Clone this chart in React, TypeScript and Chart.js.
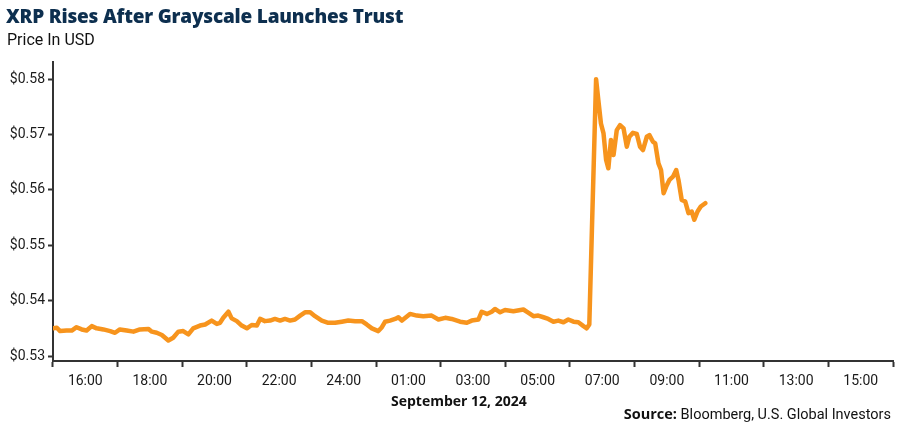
import React, { useEffect, useRef } from "react";
import { Chart, registerables } from "chart.js";

Chart.register(...registerables);

// Axis labels (one per 2-hour band, as printed on the original)
const xLabels = ["16:00", "18:00", "20:00", "22:00", "24:00", "01:00", "03:00", "05:00", "07:00", "09:00", "11:00", "13:00", "15:00"];
const yTicks = [0.53, 0.54, 0.55, 0.56, 0.57, 0.58];

// Hours elapsed since the left edge of the axis (15:00)
const hours = [
  0, 0.12, 0.22, 0.42, 0.58, 0.73, 0.89, 1.04, 1.2, 1.35,
  1.56, 1.77, 1.92, 2.07, 2.28, 2.49, 2.69, 2.95, 3.06, 3.21,
  3.37, 3.57, 3.72, 3.88, 4.03, 4.19, 4.34, 4.55, 4.71, 4.91,
  5.07, 5.17, 5.27, 5.43, 5.53, 5.69, 5.84, 6.0, 6.15, 6.31,
  6.41, 6.56, 6.72, 6.87, 7.03, 7.18, 7.34, 7.49, 7.65, 7.8,
  7.96, 8.11, 8.32, 8.52, 8.73, 8.94, 9.14, 9.35, 9.56, 9.71,
  9.87, 10.07, 10.18, 10.28, 10.43, 10.59, 10.69, 10.8, 11.05, 11.26,
  11.46, 11.72, 11.93, 12.14, 12.34, 12.6, 12.81, 12.96, 13.17, 13.27,
  13.43, 13.58, 13.68, 13.84, 13.99, 14.25, 14.56, 14.72, 14.87, 15.02,
  15.18, 15.33, 15.49, 15.64, 15.8, 15.95, 16.11, 16.26, 16.42, 16.52,
  16.6, 16.68, 16.81, 16.88, 16.96, 17.04, 17.12, 17.19, 17.27, 17.35,
  17.45, 17.55, 17.66, 17.76, 17.84, 17.95, 18.07, 18.17, 18.26, 18.38,
  18.46, 18.57, 18.64, 18.74, 18.82, 18.9, 18.98, 19.08, 19.19, 19.29,
  19.36, 19.46, 19.57, 19.67, 19.77, 19.85, 19.95, 20.05, 20.19,
];

// XRP price in USD
const prices = [
  0.535, 0.5351, 0.5345, 0.5346, 0.5346, 0.5352, 0.5348, 0.5346, 0.5354, 0.535,
  0.5348, 0.5345, 0.5342, 0.5348, 0.5346, 0.5344, 0.5348, 0.5349, 0.5344, 0.5342,
  0.5338, 0.5328, 0.5333, 0.5344, 0.5345, 0.5339, 0.535, 0.5355, 0.5357, 0.5364,
  0.5358, 0.536, 0.5369, 0.538, 0.5368, 0.5363, 0.5355, 0.535, 0.5356, 0.5355,
  0.5367, 0.5363, 0.5364, 0.5367, 0.5364, 0.5367, 0.5364, 0.5366, 0.5373, 0.5379,
  0.5379, 0.5372, 0.5364, 0.536, 0.536, 0.5362, 0.5364, 0.5363, 0.5363, 0.5357,
  0.535, 0.5345, 0.5352, 0.5362, 0.5364, 0.5367, 0.537, 0.5364, 0.5376, 0.5373,
  0.5372, 0.5373, 0.5366, 0.5369, 0.5367, 0.5362, 0.536, 0.5364, 0.5366, 0.538,
  0.5376, 0.538, 0.5385, 0.5379, 0.5383, 0.5381, 0.5384, 0.5378, 0.5372, 0.5373,
  0.537, 0.5367, 0.5362, 0.5364, 0.5361, 0.5366, 0.5362, 0.5361, 0.5354, 0.535,
  0.5357, 0.5527, 0.58, 0.5762, 0.572, 0.5702, 0.5654, 0.5639, 0.569, 0.5663,
  0.5708, 0.5717, 0.5711, 0.5678, 0.5696, 0.5703, 0.5701, 0.5678, 0.5672, 0.5696,
  0.5699, 0.5687, 0.5684, 0.5648, 0.5636, 0.5594, 0.5606, 0.5618, 0.5624, 0.5636,
  0.5618, 0.5582, 0.5579, 0.5558, 0.5561, 0.5546, 0.5561, 0.557, 0.5576,
];

const FONT = "Roboto, 'Liberation Sans', sans-serif";
const BOLD = "'Open Sans', Roboto, sans-serif";
const AXIS = "#333333";

export default function App() {
  const ref = useRef<HTMLCanvasElement | null>(null);

  useEffect(() => {
    if (!ref.current) return;
    const chart = new Chart(ref.current, {
      type: "line",
      data: {
        datasets: [
          {
            data: hours.map((h, i) => ({ x: h, y: prices[i] })),
            xAxisID: "xh",
            yAxisID: "y",
            borderColor: "#F7941D",
            borderWidth: 4.5,
            pointRadius: 0,
            tension: 0,
            borderJoinStyle: "round",
            borderCapStyle: "round",
          },
        ],
      },
      options: {
        animation: false,
        responsive: false,
        devicePixelRatio: 1,
        layout: { padding: { left: 0, top: 62, right: 7, bottom: 0 } },
        plugins: { legend: { display: false }, tooltip: { enabled: false } },
        scales: {
          x: {
            type: "category",
            labels: xLabels,
            offset: true,
            position: "bottom",
            grid: {
              offset: true,
              drawOnChartArea: false,
              drawTicks: true,
              tickLength: 6,
              tickWidth: 2,
              tickColor: (ctx: any) => (ctx.index >= xLabels.length ? "rgba(0,0,0,0)" : AXIS),
            },
            border: { display: true, color: AXIS, width: 2 },
            ticks: {
              font: { family: FONT, size: 14 },
              color: "#1a1a1a",
              padding: 6,
              maxRotation: 0,
              autoSkip: false,
            },
            afterFit: (axis: any) => {
              axis.height = 65;
            },
          },
          xh: {
            type: "linear",
            display: false,
            min: 0,
            max: 26,
          },
          y: {
            type: "linear",
            min: 0.5291,
            max: 0.5831,
            grid: {
              drawOnChartArea: false,
              drawTicks: true,
              tickLength: 5,
              tickWidth: 2,
              tickColor: AXIS,
            },
            border: { display: true, color: AXIS, width: 2 },
            ticks: {
              font: { family: FONT, size: 14 },
              color: "#1a1a1a",
              padding: 3,
              callback: (v: any) => "$" + Number(v).toFixed(2),
            },
            afterBuildTicks: (axis: any) => {
              axis.ticks = yTicks.map((v) => ({ value: v }));
            },
            afterFit: (axis: any) => {
              axis.width = 53;
            },
          },
        },
      },
    });
    return () => chart.destroy();
  }, []);

  return (
    <div style={{ position: "absolute", left: 0, top: 0, width: 900, height: 426, background: "#fff", fontFamily: FONT }}>
      <canvas ref={ref} width={900} height={426} style={{ position: "absolute", left: 0, top: 0 }} />
      <div style={{ position: "absolute", left: 6, top: 4, fontFamily: BOLD, fontSize: 19, fontWeight: 800, color: "#0d2f4f", whiteSpace: "nowrap", lineHeight: "24px", letterSpacing: "-0.2px" }}>
        XRP Rises After Grayscale Launches Trust
      </div>
      <div style={{ position: "absolute", left: 7, top: 29, fontSize: 16, color: "#111", whiteSpace: "nowrap", lineHeight: "22px" }}>
        Price In USD
      </div>
      <div style={{ position: "absolute", left: 391, top: 392, fontFamily: BOLD, fontSize: 14, fontWeight: 700, color: "#111", whiteSpace: "nowrap", lineHeight: "18px" }}>
        September 12, 2024
      </div>
      <div style={{ position: "absolute", right: 9, top: 405, fontSize: 14.5, color: "#111", whiteSpace: "nowrap", lineHeight: "18px" }}>
        <b style={{ fontFamily: BOLD }}>Source:</b> Bloomberg, U.S. Global Investors
      </div>
    </div>
  );
}
